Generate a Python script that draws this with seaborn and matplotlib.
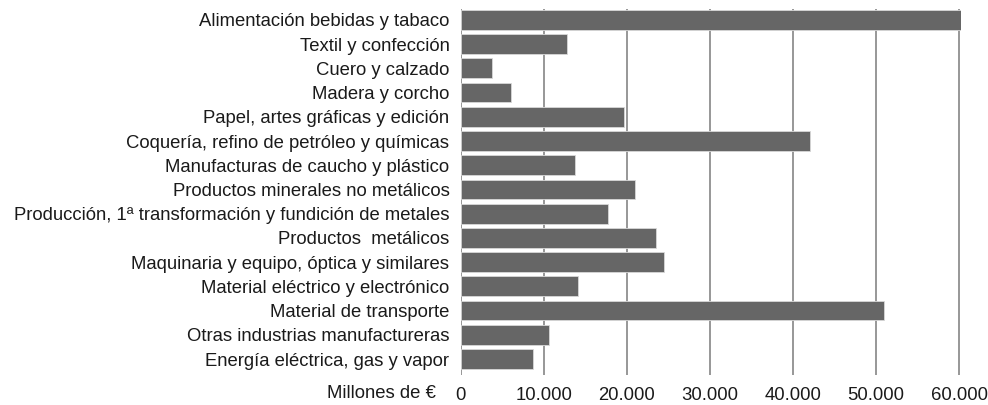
import matplotlib.pyplot as plt
import pandas as pd
import seaborn as sns
from matplotlib.ticker import FuncFormatter

sectores = [
    "Alimentación bebidas y tabaco",
    "Textil y confección",
    "Cuero y calzado",
    "Madera y corcho",
    "Papel, artes gráficas y edición",
    "Coquería, refino de petróleo y químicas",
    "Manufacturas de caucho y plástico",
    "Productos minerales no metálicos",
    "Producción, 1ª transformación y fundición de metales",
    "Productos  metálicos",
    "Maquinaria y equipo, óptica y similares",
    "Material eléctrico y electrónico",
    "Material de transporte",
    "Otras industrias manufactureras",
    "Energía eléctrica, gas y vapor",
]
millones = [60200, 12800, 3850, 6100, 19700, 42050, 13800, 21000,
            17750, 23500, 24500, 14200, 51000, 10600, 8700]
ticks = [0, 10000, 20000, 30000, 40000, 50000, 60000]

df = pd.DataFrame({"sector": sectores, "valor": millones})

sns.set_style("white")
plt.rcParams['font.family'] = ['Liberation Sans', 'DejaVu Sans']

fig = plt.figure(figsize=(9.88, 4.05), dpi=100)
ax = fig.add_axes([460.5 / 988, 1 - 375 / 405, 500.2 / 988, 366 / 405])

ax.set_axisbelow(True)
for t in ticks:
    ax.axvline(t, color='#7a7a7a', lw=1.1, zorder=0)

sns.barplot(data=df, x="valor", y="sector", ax=ax, color='#666666',
            saturation=1, width=0.82, edgecolor='#d8d8d8', linewidth=0.6, zorder=2)

ax.set_xlim(0, 60200)
ax.set_ylim(14.66, -0.45)
ax.set_xticks(ticks)
ax.xaxis.set_major_formatter(FuncFormatter(lambda v, p: f"{int(v):,}".replace(",", ".")))
ax.set_xlabel("")
ax.set_ylabel("")
ax.tick_params(axis='y', length=0, pad=8, labelsize=13.3, labelcolor='#1a1a1a')
ax.tick_params(axis='x', length=0, pad=9, labelsize=13.3, labelcolor='#1a1a1a')
for s in ax.spines.values():
    s.set_visible(False)

fig.text(436 / 988, 1 - 393 / 405, "Millones de €", ha='right', va='center',
         fontsize=13.3, color='#1a1a1a')

fig.savefig("out.png", dpi=100)
